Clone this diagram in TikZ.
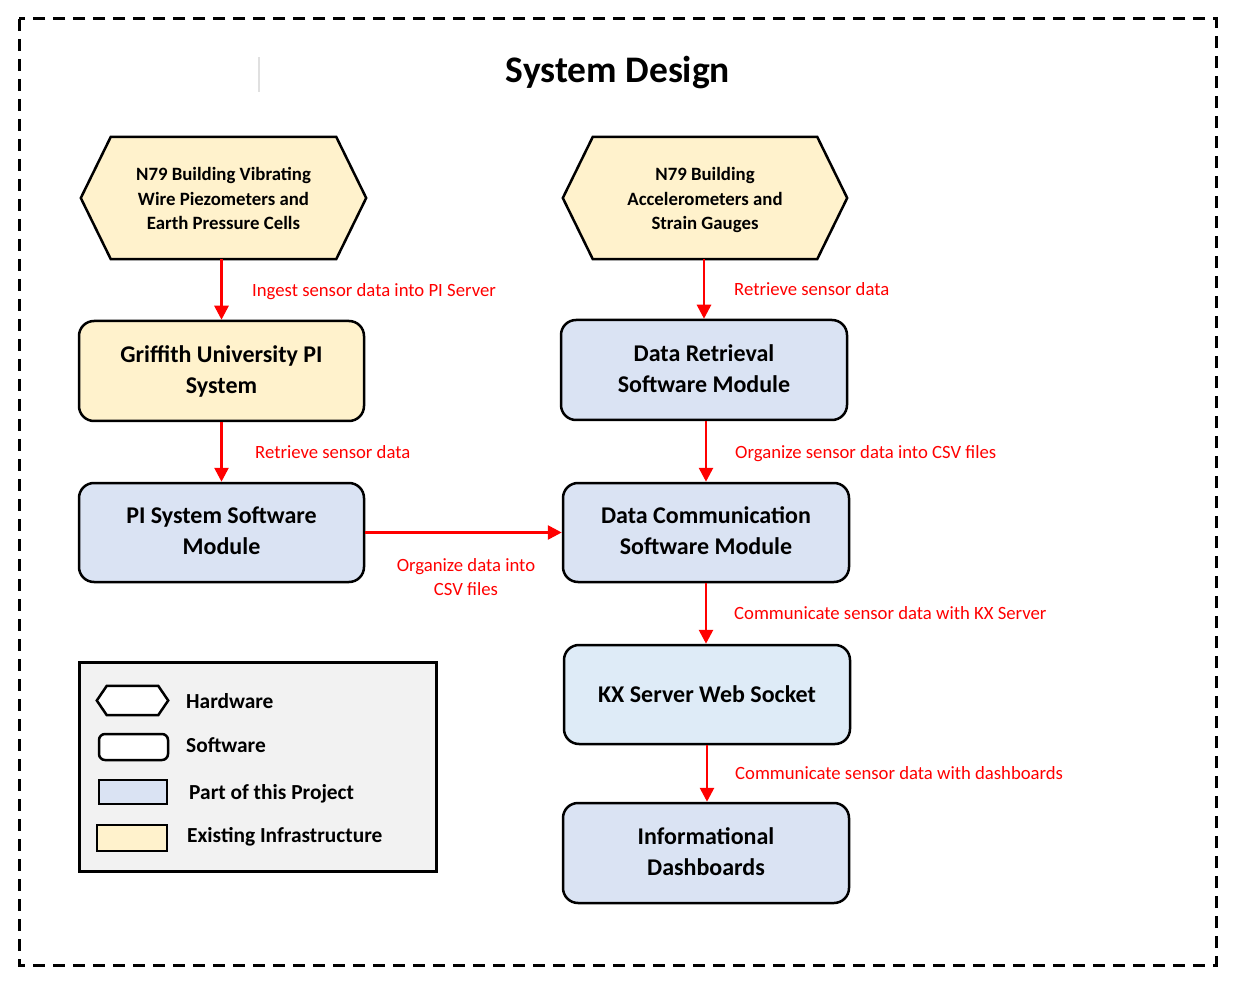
\documentclass[tikz,border=0pt]{standalone}
\usepackage{fontspec}
\setmainfont{Carlito}
\usetikzlibrary{arrows.meta,backgrounds,calc}
\definecolor{yel}{HTML}{FFF2CC}
\definecolor{blu}{HTML}{DAE3F3}
\definecolor{blu2}{HTML}{DEEBF7}
\definecolor{lgr}{HTML}{F2F2F2}
\definecolor{arrred}{HTML}{FF0000}
\tikzset{
  sbox/.style={draw, line width=2.5pt, rounded corners=15pt, minimum width=285pt, minimum height=100pt,
    align=center, inner sep=0pt, font=\bfseries\fontsize{24}{31}\selectfont},
  btext/.style={align=center, inner sep=0pt, yshift=-3pt, font=\bfseries\fontsize{24}{31}\selectfont},
  hexnode/.style={inner sep=0pt, minimum width=285pt, minimum height=122pt},
  hextext/.style={align=center, inner sep=0pt, yshift=-4.5pt, font=\bfseries\fontsize{18.8}{24.5}\selectfont},
  hexline/.style={draw, line width=2.5pt, fill=yel, line join=miter},
  arr/.style={draw=arrred, line width=2.7pt, -{Triangle[width=14pt,length=14pt]}},
  lbl/.style={text=arrred, font=\fontsize{18.7}{24}\selectfont, inner sep=0pt, yshift=-1.5pt},
  legtext/.style={anchor=west, inner sep=0pt, yshift=-1.5pt, font=\bfseries\fontsize{21.4}{24}\selectfont},
}
\begin{document}
\begin{tikzpicture}[x=1pt,y=-1pt]
\useasboundingbox (0,0) rectangle (1237,981);
% outer dashed frame
\draw[line width=3pt, dash pattern=on 12pt off 8pt] (19,19) rectangle (1216,965);
\draw[black!12, line width=1.5pt] (259,57) -- (259,92);
\node[font=\bfseries\fontsize{37.5}{42}\selectfont, inner sep=0pt] (title) at (618,73) {System Design};

% hardware hexagons
\node[hexnode] (hw1) at (223.5,198) {};
\node[hexnode, minimum width=284pt] (hw2) at (705,198) {};
\begin{pgfonlayer}{background}
\foreach \h in {hw1,hw2}{
  \draw[hexline] (\h.west) -- ([xshift=30pt]\h.north west) -- ([xshift=-30pt]\h.north east)
    -- (\h.east) -- ([xshift=-30pt]\h.south east) -- ([xshift=30pt]\h.south west) -- cycle;
}
\end{pgfonlayer}
\node[hextext] (hw1t) at (hw1) {N79 Building Vibrating\\Wire Piezometers and\\Earth Pressure Cells\strut};
\node[hextext] (hw2t) at (hw2) {N79 Building\\Accelerometers and\\Strain Gauges\strut};

% software boxes
\node[sbox, fill=yel] (gr) at (221.5,371) {};
\node[btext] (grt) at (gr) {Griffith University PI\\System\strut};
\node[sbox, fill=blu, minimum width=286pt] (dr) at (704,370) {};
\node[btext] (drt) at (dr) {Data Retrieval\\Software Module\strut};
\node[sbox, fill=blu, minimum height=99pt] (pi) at (221.5,532.5) {};
\node[btext] (pit) at (pi) {PI System Software\\Module\strut};
\node[sbox, fill=blu, minimum width=286pt, minimum height=99pt] (dc) at (706,532.5) {};
\node[btext] (dct) at (dc) {Data Communication\\Software Module\strut};
\node[sbox, fill=blu2, minimum width=286pt, minimum height=99pt] (kx) at (707,694.5) {KX Server Web Socket};
\node[sbox, fill=blu, minimum width=286pt] (db) at (706,853) {};
\node[btext] (dbt) at (db) {Informational\\Dashboards\strut};

% connectors
\draw[arr] (gr.north |- hw1.south) -- (gr.north);
\draw[arr] (dr.north |- hw2.south) -- (dr.north);
\draw[arr] (gr.south) -- (pi.north);
\draw[arr] (dc.north |- dr.south) -- (dc.north);
\draw[arr] (pi.east) -- (dc.west);
\draw[arr] (dc.south) -- (dc.south |- kx.north);
\draw[arr] (kx.south) -- (kx.south |- db.north);

% connector labels
\node[lbl, anchor=west] (l1) at (252,290) {Ingest sensor data into PI Server};
\node[lbl, anchor=west] (l2) at (734,288) {Retrieve sensor data};
\node[lbl, anchor=west] (l3) at (255,451) {Retrieve sensor data};
\node[lbl, anchor=west] (l4) at (735,452) {Organize sensor data into CSV files};
\node[lbl, align=center] (l5) at (466,576) {Organize data into\\CSV files};
\node[lbl, anchor=west] (l6) at (734,612) {Communicate sensor data with KX Server};
\node[lbl, anchor=west] (l7) at (735,772) {Communicate sensor data with dashboards};

% legend
\node[draw, line width=3pt, fill=lgr, minimum width=357pt, minimum height=209pt, inner sep=0pt] (leg) at (257.5,766.5) {};
\node[minimum width=71pt, minimum height=29pt, inner sep=0pt] (ihw) at (132.5,700.5) {};
\draw[line width=2.5pt, fill=white, line join=miter] (ihw.west) -- ([xshift=10pt]ihw.north west) -- ([xshift=-10pt]ihw.north east)
    -- (ihw.east) -- ([xshift=-10pt]ihw.south east) -- ([xshift=10pt]ihw.south west) -- cycle;
\node[draw, line width=2.5pt, fill=white, rounded corners=6pt, minimum width=69pt, minimum height=26pt, inner sep=0pt] (isw) at (133.5,747) {};
\node[draw, line width=2.5pt, fill=blu, minimum width=68pt, minimum height=24pt, inner sep=0pt] (ipp) at (133,792) {};
\node[draw, line width=2.5pt, fill=yel, minimum width=70pt, minimum height=26pt, inner sep=0pt] (iei) at (132,838) {};
\node[legtext] (thw) at (186,700) {Hardware};
\node[legtext] (tsw) at (186,744) {Software};
\node[legtext] (tpp) at (189,792) {Part of this Project};
\node[legtext] (tei) at (187,835) {Existing Infrastructure};
\end{tikzpicture}
\end{document}
